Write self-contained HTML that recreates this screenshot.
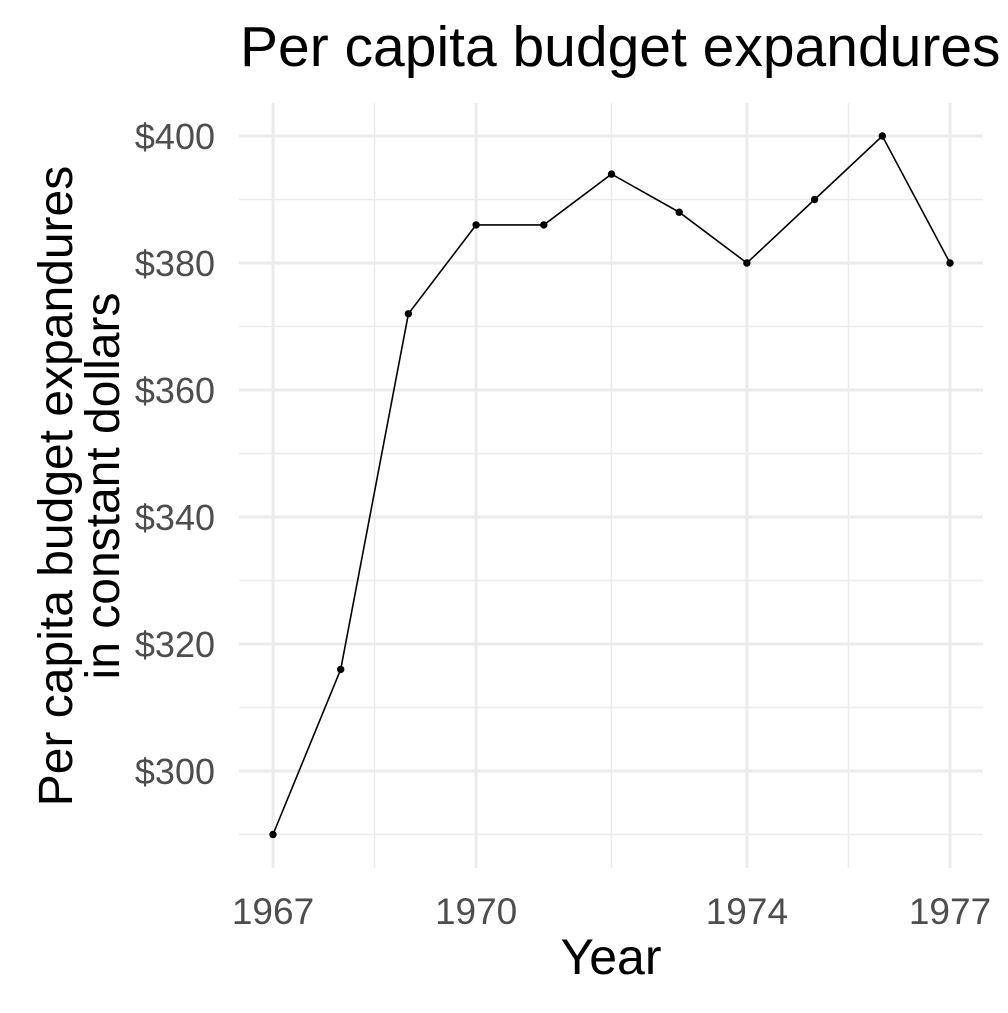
<!DOCTYPE html>
<html><head><meta charset="utf-8"><style>
body{margin:0;background:#fff}
svg text{font-family:"Liberation Sans",Arial,sans-serif}
</style></head><body>
<svg id="chart" width="1008" height="1008" viewBox="0 0 1008 1008">
<text x="240" y="66" font-size="57" fill="#000">Per capita budget expandures</text>
<g id="grid"></g>
<g id="series"></g>
<g id="axes"></g>
<text x="611" y="974" font-size="50" text-anchor="middle" fill="#000">Year</text>
<g transform="translate(0,486) rotate(-90)">
<text x="0" y="72" font-size="48" text-anchor="middle" fill="#000">Per capita budget expandures</text>
<text x="0" y="119" font-size="48" text-anchor="middle" fill="#000">in constant dollars</text>
</g>
</svg>
<script>
const years=[1967,1968,1969,1970,1971,1972,1973,1974,1975,1976,1977];
const values=[290,316,372,386,386,394,388,380,390,400,380];
const xTicks=[1967,1970,1974,1977];
const xMinor=[1968.5,1972,1975.5];
const yTicks=[300,320,340,360,380,400];
const yMinor=[290,310,330,350,370,390];
const yLabels=["$300","$320","$340","$360","$380","$400"];
const NS="http://www.w3.org/2000/svg";
const X0=239,X1=983,Y0=103,Y1=868;
const x=v=>273+(v-1967)*67.7;
const y=v=>771-(v-300)*6.35;
function mk(tag,attrs,parent){const e=document.createElementNS(NS,tag);for(const k in attrs)e.setAttribute(k,attrs[k]);parent.appendChild(e);return e;}
const grid=document.getElementById('grid'),ser=document.getElementById('series'),ax=document.getElementById('axes');
yMinor.forEach(v=>{const l=mk('line',{x1:X0,x2:X1,y1:y(v),y2:y(v),stroke:'#ebebeb','stroke-width':1.5},grid);

});
xMinor.forEach(v=>{const l=mk('line',{x1:x(v),x2:x(v),y1:Y0,y2:Y1,stroke:'#ebebeb','stroke-width':1.5},grid);

});
yTicks.forEach((v,i)=>{const l=mk('line',{x1:X0,x2:X1,y1:y(v),y2:y(v),stroke:'#ebebeb','stroke-width':3},grid);


const t=mk('text',{x:215,y:y(v)+13,'font-size':36,'text-anchor':'end',fill:'#4d4d4d'},ax);t.textContent=yLabels[i];

});
xTicks.forEach(v=>{const l=mk('line',{x1:x(v),x2:x(v),y1:Y0,y2:Y1,stroke:'#ebebeb','stroke-width':3},grid);


const t=mk('text',{x:x(v),y:924,'font-size':37,'text-anchor':'middle',fill:'#4d4d4d'},ax);t.textContent=v;

});
const p=mk('polyline',{points:years.map((yr,i)=>x(yr)+','+y(values[i])).join(' '),fill:'none',stroke:'#000','stroke-width':1.6},ser);


years.forEach((yr,i)=>{const c=mk('circle',{cx:x(yr),cy:y(values[i]),r:3.7,fill:'#000'},ser);

});
</script>
</body></html>
